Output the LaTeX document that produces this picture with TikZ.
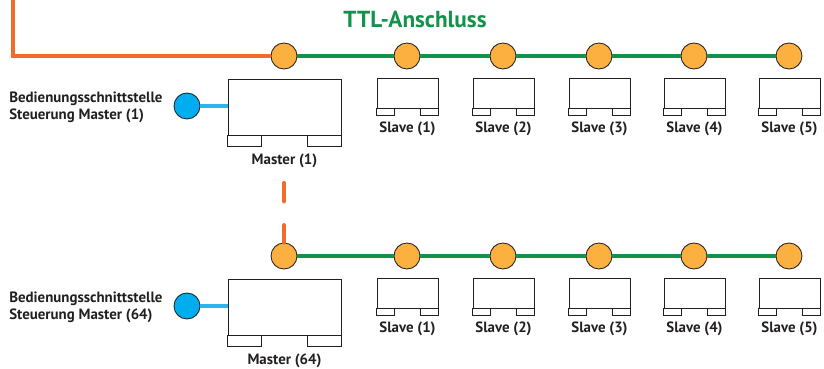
\documentclass[tikz,border=0pt]{standalone}
\usepackage{fontspec}
\setmainfont{PT Sans}[BoldFont={PT Sans Bold}]
\usepackage{tikz}
\usetikzlibrary{positioning,calc}
\definecolor{BusGreen}{HTML}{12924A}
\definecolor{LinkOrange}{HTML}{F26A2C}
\definecolor{PortOrange}{HTML}{FBB040}
\definecolor{PanelBlue}{HTML}{00AEEF}
\definecolor{WireBlue}{HTML}{2BB5EC}
\definecolor{EdgeGray}{HTML}{231F20}

\begin{document}
\begin{tikzpicture}[
  x=0.025cm, y=-0.025cm,
  port/.style={
    circle, draw=EdgeGray, fill=PortOrange, line width=0.6pt,
    minimum size=0.65cm, inner sep=0pt
  },
  panel/.style={
    circle, draw=EdgeGray, fill=PanelBlue, line width=0.6pt,
    minimum size=0.65cm, inner sep=0pt
  },
  masterbody/.style={
    draw=EdgeGray, fill=white, line width=0.6pt, inner sep=0pt,
    minimum width=2.825cm, minimum height=1.4cm
  },
  slavebody/.style={
    draw=EdgeGray, fill=white, line width=0.6pt, inner sep=0pt,
    minimum width=1.525cm, minimum height=0.75cm
  },
  foot/.style={draw=EdgeGray, line width=0.6pt},
  lbl/.style={font=\fontsize{10.6}{12.2}\selectfont\bfseries, text=EdgeGray, inner sep=0pt},
  bus/.style={draw=BusGreen, line width=3pt},
  link/.style={draw=LinkOrange, line width=3pt},
  wire/.style={draw=WireBlue, line width=3pt},
]
\useasboundingbox (0,0) rectangle (824,369);

% ---------- Unit macros ----------
% Master: body with two feet
\newcommand{\masterunit}[3]{%
  \node[masterbody] (#1) at (#2) {};
  \draw[foot] (#1.south west) rectangle ++(0.85cm,-0.275cm);
  \draw[foot] (#1.south east) rectangle ++(-0.85cm,-0.275cm);
  \node[lbl] at ($(#1.south)+(0,-0.63cm)$) {#3};
}
% Slave: smaller body with two feet
\newcommand{\slaveunit}[3]{%
  \node[slavebody] (#1) at (#2) {};
  \draw[foot] (#1.south west) rectangle ++(0.45cm,-0.175cm);
  \draw[foot] (#1.south east) rectangle ++(-0.45cm,-0.175cm);
  \node[lbl] at ($(#1.south)+(0,-0.52cm)$) {#3};
}

% ---------- Title ----------
\node[font=\fontsize{16.5}{19}\selectfont\bfseries, text=BusGreen] (title) at (415,19) {TTL-Anschluss};

% ---------- Two chains (top: Master 1, bottom: Master 64) ----------
\foreach \c/\dy/\m in {p/0/1, q/200/64} {
  % ports on the TTL bus
  \node[port] (\c0) at (284,56+\dy) {};
  \foreach \i/\px in {1/407, 2/503, 3/599, 4/694, 5/789}
    \node[port] (\c\i) at (\px,56+\dy) {};
  \draw[bus] (\c0) -- (\c1) -- (\c2) -- (\c3) -- (\c4) -- (\c5);
  % master and its operating panel
  \masterunit{\c m}{284.5,107+\dy}{Master (\m)}
  \node[panel] (\c ui) at (187,106+\dy) {};
  \draw[wire] (\c ui) -- (\c m.west |- \c ui);
  \node[lbl, align=left, anchor=west] (\c txt) at (9,107.5+\dy)
    {Bedienungsschnittstelle\\Steuerung Master (\m)};
  % slaves
  \foreach \i/\px in {1/407.5, 2/503.5, 3/599.5, 4/694.5, 5/789.5}{
    \slaveunit{\c s\i}{\px,93+\dy}{Slave (\i)}
  }
}

% ---------- Orange link from controller ----------
\coordinate (feed) at (13,0);
\draw[link] (feed) |- (p0.west);
\coordinate (gap) at (284,183);
\draw[link, line cap=round, dash pattern=on 13pt off 17pt] (gap) -- (q0.north);

\end{tikzpicture}
\end{document}
